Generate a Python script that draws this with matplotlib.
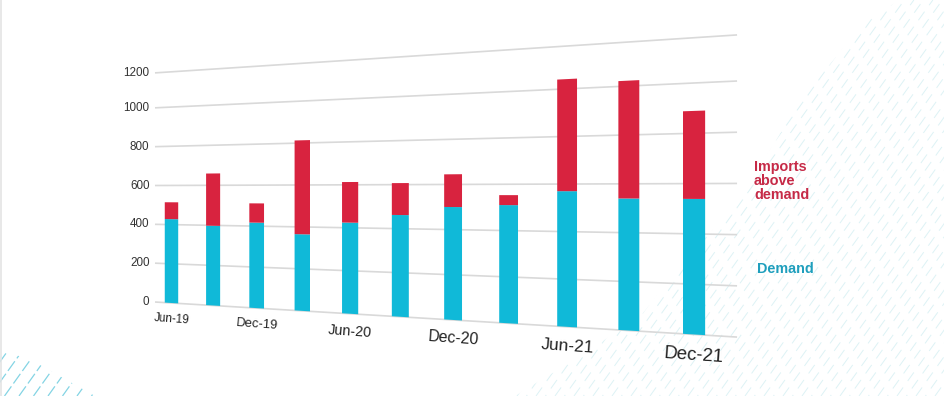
import numpy as np
import matplotlib
matplotlib.use('Agg')
import matplotlib.pyplot as plt
from matplotlib.collections import LineCollection
from matplotlib.path import Path
from matplotlib.transforms import IdentityTransform, Transform

months = ['Jun-19', 'Sep-19', 'Dec-19', 'Mar-20', 'Jun-20', 'Sep-20',
          'Dec-20', 'Mar-21', 'Jun-21', 'Sep-21', 'Dec-21']
demand = [428, 398, 417, 365, 424, 462, 500, 510, 570, 540, 539]
imports_above = [86, 261, 94, 448, 189, 145, 145, 43, 471, 482, 350]
y_ticks = [0, 200, 400, 600, 800, 1000, 1200]
# the top gridline sits a little low in the source picture
grid_levels = [0, 200, 400, 600, 800, 1000, 1180]

W, H = 945, 396
RED = '#D8233F'
TEAL = '#10B9D8'


class Tilt(Transform):
    # unit square to figure pixels, the picture is a tilted view of a flat chart
    input_dims = 2
    output_dims = 2

    def transform_non_affine(self, values):
        u, v = np.asarray(values, dtype=float).T
        den = 1 - 0.2417 * u
        x = (155 + 403.9 * u) / den
        y = (302 - 46.4 * u - 233 * v) / den
        return np.column_stack([x, H - y])


def hatch(ax, outline, x_range, spacing, color, lw, dash, stagger):
    # slanted dashes clipped to a polygon given in image pixels
    pts = np.array(outline, dtype=float)
    pts[:, 1] = H - pts[:, 1]
    clip = Path(np.vstack([pts, pts[0]]), closed=True)
    segs = []
    styles = []
    for k, x0 in enumerate(np.arange(x_range[0], x_range[1], spacing)):
        segs.append([(x0, 0), (x0 + H / 1.4, H)])
        styles.append((stagger * (k % 2), dash))
    lines = LineCollection(segs, colors=color, linewidths=lw, linestyles=styles,
                           transform=IdentityTransform(), zorder=0)
    ax.add_collection(lines, autolim=False)
    lines.set_clip_path(clip, IdentityTransform())


fig = plt.figure(figsize=(W / 100, H / 100), dpi=100)
plt.rcParams['font.family'] = ['Liberation Sans', 'DejaVu Sans']
ax = fig.add_axes([0, 0, 1, 1])
ax.set_xlim(-0.408, 10.63)
ax.set_ylim(0, 1200)
ax.set_axis_off()
tilt = ax.transScale + ax.transLimits + Tilt()

hatch(ax, [(515, 396), (590, 350), (643, 313), (707, 235), (733, 213), (800, 100),
           (867, 20), (900, 0), (945, 0), (945, 396)],
      (-300, 945), 9.5, '#DDF2F5', 0.7, (10.8, 8.2), 9.5)
hatch(ax, [(0, 348), (40, 365), (95, 396), (0, 396)],
      (-300, 100), 14.5, '#84D4E4', 0.9, (9.5, 2.8), 0)
ax.plot([0.5, 0.5], [0, H], color='#E4E4E4', lw=1.2, transform=IdentityTransform())

xlo, xhi = ax.get_xlim()
for t, level in zip(y_ticks, grid_levels):
    ax.plot([xlo, xhi], [level, level], color='#D9D9D9', lw=1.2, transform=tilt,
            solid_capstyle='butt', zorder=1)
    ax.text(xlo - 0.14, level, str(t), transform=tilt, ha='right', va='center',
            fontsize=8.4, color='#333333')

x = np.arange(len(months))
ax.bar(x, demand, width=0.33, color=TEAL, transform=tilt, zorder=2)
ax.bar(x, imports_above, width=0.33, bottom=demand, color=RED, transform=tilt, zorder=2)

for i in x[::2]:
    ax.text(i, -82, months[i], transform=tilt, ha='center', va='center',
            rotation=-4, rotation_mode='anchor', fontsize=8.4 + 0.5 * i,
            color='#222222')

for line, ypx in zip(['Imports', 'above', 'demand'], [167, 181, 195]):
    ax.text(754, H - ypx, line, transform=IdentityTransform(), ha='left', va='center',
            fontsize=10.4, fontweight='bold', color='#C62A47')
ax.text(757, H - 269, 'Demand', transform=IdentityTransform(), ha='left', va='center',
        fontsize=10.4, fontweight='bold', color='#1F9FBD')

fig.savefig('out.png', dpi=100)
